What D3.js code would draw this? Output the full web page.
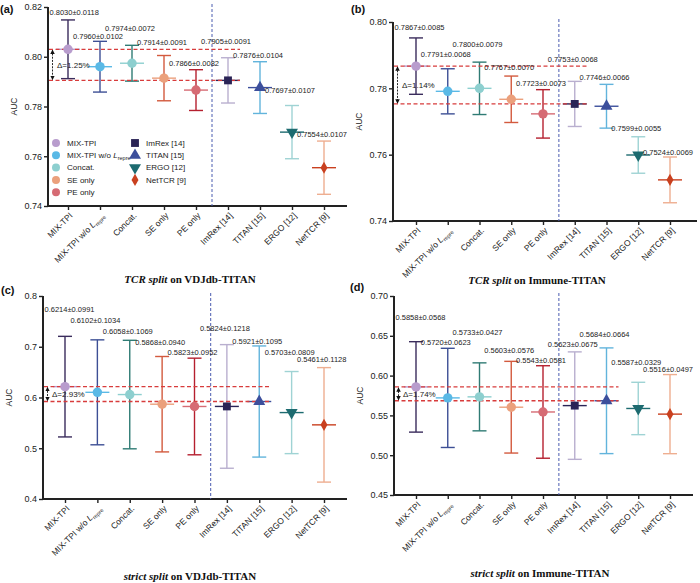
<!DOCTYPE html>
<html><head><meta charset="utf-8">
<script src="https://cdn.jsdelivr.net/npm/d3@7"></script>
<style>html,body{margin:0;padding:0;background:#fff;} svg{display:block;}</style>
</head><body>
<svg id="chart" width="700" height="583"></svg>
<script>
// ---------- data ----------
const categories = ["MIX-TPI","MIX-TPI w/o Lrepre","Concat.","SE only","PE only","ImRex [14]","TITAN [15]","ERGO [12]","NetTCR [9]"];
const markerShapes = ["circle","circle","circle","circle","circle","square","triangle","triangleDown","diamond"];
const markerColors = ["#b89ccd","#5ab9e6","#8dcfcf","#eba07c","#d66b74","#2a2456","#3c4f9c","#1d6b70","#c9401f"];
const barColors    = ["#3a2c5c","#3d4f95","#2f7b74","#d35a3e","#b5202f","#b9afcf","#62b4dc","#9fd3d4","#eeae90"];

const meanA = [0.8030,0.7960,0.7974,0.7914,0.7866,0.7905,0.7876,0.7697,0.7554];
const sdA   = [0.0118,0.0102,0.0072,0.0091,0.0082,0.0091,0.0104,0.0107,0.0107];
const ticksA = [0.74,0.76,0.78,0.80,0.82];

const meanB = [0.7867,0.7791,0.7800,0.7767,0.7723,0.7753,0.7746,0.7599,0.7524];
const sdB   = [0.0085,0.0068,0.0079,0.0070,0.0073,0.0068,0.0066,0.0055,0.0069];
const ticksB = [0.74,0.76,0.78,0.80];

const meanC = [0.6214,0.6102,0.6058,0.5868,0.5823,0.5824,0.5921,0.5703,0.5461];
const sdC   = [0.0991,0.1034,0.1069,0.0940,0.0952,0.1218,0.1095,0.0809,0.1128];
const ticksC = [0.4,0.5,0.6,0.7,0.8];

const meanD = [0.5858,0.5720,0.5733,0.5603,0.5543,0.5623,0.5684,0.5587,0.5516];
const sdD   = [0.0568,0.0623,0.0427,0.0576,0.0581,0.0675,0.0664,0.0329,0.0497];
const ticksD = [0.45,0.50,0.55,0.60,0.65,0.70];

// label vertical nudges (layout, px)
const labelDyA = [-8,-5,-17,-13,-6,-16,-6,-15,-7];
const labelDyB = [-11,-14,-18,-9,-6,-22,-7,-8,-5];
const labelDyC = [-27,-19,-9,-14,-6,-16,-5,-19,-8];
const labelDyD = [-24,-6,-30,-11,-5,-8,-14,-20,-5];

const SANS = "'Liberation Sans', Arial, Helvetica, sans-serif";
const SERIF = "'Liberation Serif', 'Times New Roman', serif";

const panels = [
  {tag:"(a)", tagX:0, tagY:9, means:meanA, sds:sdA, ticks:ticksA, fmt:".2f", ax:48, x0:68, x1:324, xEnd:347, yTop:7, yBot:206,
   labelDy:labelDyA, title:[["TCR split",true],[" on VDJdb-TITAN",false]], titleX:190, titleY:279, legend:true},
  {tag:"(b)", tagX:351, tagY:9, means:meanB, sds:sdB, ticks:ticksB, fmt:".2f", ax:393, x0:416, x1:670, xEnd:697, yTop:22, yBot:221,
   labelDy:labelDyB, title:[["TCR split",true],[" on Immune-TITAN",false]], titleX:537, titleY:280},
  {tag:"(c)", tagX:1, tagY:290, means:meanC, sds:sdC, ticks:ticksC, fmt:".1f", ax:43, x0:65, x1:324, xEnd:347, yTop:296, yBot:499,
   labelDy:labelDyC, title:[["strict split",true],[" on VDJdb-TITAN",false]], titleX:190, titleY:576},
  {tag:"(d)", tagX:350, tagY:287, means:meanD, sds:sdD, ticks:ticksD, fmt:".2f", ax:394, x0:416, x1:670, xEnd:693, yTop:296, yBot:495,
   labelDy:labelDyD, title:[["strict split",true],[" on Immune-TITAN",false]], titleX:540, titleY:573}
];

const svg = d3.select("#chart");
const defs = svg.append("defs");
defs.append("marker").attr("id","arrow").attr("viewBox","0 0 6 6").attr("refX",5).attr("refY",3)
  .attr("markerWidth",5).attr("markerHeight",5).attr("orient","auto-start-reverse")
  .append("path").attr("d","M0,0 L6,3 L0,6 Z").attr("fill","#111");

function symbolPath(shape, size){
  const t = {circle:d3.symbolCircle, square:d3.symbolSquare, triangle:d3.symbolTriangle,
             triangleDown:d3.symbolTriangle, diamond:d3.symbolDiamond}[shape];
  const s = {circle:70, square:62, triangle:62, triangleDown:62, diamond:42}[shape];
  return d3.symbol().type(t).size(size || s)();
}
function symbolTransform(shape, x, y){
  return `translate(${x},${y})` + (shape==="triangleDown" ? " rotate(180)" : "");
}
function catLabel(sel, name){
  if (name === "MIX-TPI w/o Lrepre"){
    sel.text(null);
    sel.append("tspan").text("MIX-TPI w/o ");
    sel.append("tspan").attr("font-style","italic").text("L");
    sel.append("tspan").attr("font-size","5.5px").attr("dy","2").text("repre");
  } else sel.text(name);
}

panels.forEach(p => {
  const g = svg.append("g");
  const x = d3.scalePoint().domain(categories).range([p.x0, p.x1]);
  const y = d3.scaleLinear().domain([p.ticks[0], p.ticks[p.ticks.length-1]]).range([p.yBot, p.yTop]);
  const f4 = d3.format(".4f");

  // y axis
  const ya = g.append("g").attr("transform",`translate(${p.ax},0)`)
    .call(d3.axisLeft(y).tickValues(p.ticks).tickFormat(d3.format(p.fmt)).tickSize(4).tickSizeOuter(0).tickPadding(2));
  ya.select(".domain").remove();
  ya.selectAll(".tick line").attr("stroke","#222").attr("stroke-width",1.4);
  ya.selectAll(".tick text").attr("font-family",SANS).attr("font-size","9px").attr("fill","#222");

  // x axis
  const xa = g.append("g").attr("transform",`translate(0,${p.yBot})`)
    .call(d3.axisBottom(x).tickSize(4).tickSizeOuter(0).tickFormat(""));
  xa.select(".domain").remove();
  xa.selectAll(".tick line").attr("stroke","#222").attr("stroke-width",1.4);
  categories.forEach(c => {
    const t = g.append("text")
      .attr("transform",`translate(${x(c)+3},${p.yBot+8}) rotate(-45)`)
      .attr("text-anchor","end").attr("dy","0.35em")
      .attr("font-family",SANS).attr("font-size","8.5px").attr("fill","#222");
    catLabel(t, c);
  });

  // axis lines
  g.append("line").attr("x1",p.ax).attr("x2",p.ax).attr("y1",p.yTop).attr("y2",p.yBot+1)
    .attr("stroke","#222").attr("stroke-width",2);
  g.append("line").attr("x1",p.ax-1).attr("x2",p.xEnd).attr("y1",p.yBot).attr("y2",p.yBot)
    .attr("stroke","#222").attr("stroke-width",2);

  // AUC label
  g.append("text").attr("transform",`translate(${p.ax-31},${(p.yTop+p.yBot)/2}) rotate(-90)`)
    .attr("text-anchor","middle").attr("font-family",SANS).attr("font-size","8.5px").attr("fill","#222").text("AUC");

  // separator
  const sepX = (x(categories[4]) + x(categories[5]))/2;
  g.append("line").attr("x1",sepX).attr("x2",sepX).attr("y1",p.yTop-3).attr("y2",p.yBot)
    .attr("stroke","#4b5cb0").attr("stroke-width",1).attr("stroke-dasharray","3,2");

  // error bars
  const items = categories.map((c,i)=>({c,i,m:p.means[i],s:p.sds[i]}));
  const eb = g.append("g");
  items.forEach(d => {
    const cx = x(d.c), col = barColors[d.i];
    eb.append("line").attr("x1",cx).attr("x2",cx).attr("y1",y(d.m+d.s)).attr("y2",y(d.m-d.s))
      .attr("stroke",col).attr("stroke-width",1.4);
    [d.m+d.s, d.m-d.s].forEach(v => eb.append("line").attr("x1",cx-7).attr("x2",cx+7)
      .attr("y1",y(v)).attr("y2",y(v)).attr("stroke",col).attr("stroke-width",1.4));
    eb.append("line").attr("x1",cx-12).attr("x2",cx+12).attr("y1",y(d.m)).attr("y2",y(d.m))
      .attr("stroke",markerColors[d.i]).attr("stroke-width",1.4);
  });

  // reference lines: MIX-TPI vs best baseline
  const best = d3.maxIndex(p.means.slice(5)) + 5;
  const lineEnd = x(categories[best]) + 12;
  [p.means[0], p.means[best]].forEach(v => g.append("line")
    .attr("x1",p.ax+1).attr("x2",lineEnd).attr("y1",y(v)).attr("y2",y(v))
    .attr("stroke","#d83c3c").attr("stroke-width",1.3).attr("stroke-dasharray","4,2.5"));

  // delta arrow
  const delta = (p.means[0]-p.means[best])*100;
  const arX = p.ax + 4.5;
  g.append("line").attr("x1",arX).attr("x2",arX).attr("y1",y(p.means[0])+1).attr("y2",y(p.means[best])-1)
    .attr("stroke","#111").attr("stroke-width",0.9).attr("stroke-dasharray","2,1.2")
    .attr("marker-start","url(#arrow)").attr("marker-end","url(#arrow)");
  g.append("text").attr("x",p.ax+9).attr("y",(y(p.means[0])+y(p.means[best]))/2).attr("dy","0.35em")
    .attr("font-family",SANS).attr("font-size","8px").attr("fill","#222")
    .text("Δ=" + delta.toFixed(2) + "%");

  // markers
  items.forEach(d => {
    const sh = markerShapes[d.i];
    g.append("path").attr("d",symbolPath(sh)).attr("transform",symbolTransform(sh, x(d.c), y(d.m)))
      .attr("fill",markerColors[d.i]);
  });

  // value labels
  items.forEach(d => {
    g.append("text")
      .attr("x", Math.max(x(d.c)-27, p.ax+1.5))
      .attr("y", y(d.m+d.s) + p.labelDy[d.i]).attr("dy","0.35em")
      .attr("font-family",SANS).attr("font-size","7.5px").attr("fill","#222")
      .text(f4(d.m) + "±" + f4(d.s));
  });

  // title
  const tt = g.append("text").attr("x",p.titleX).attr("y",p.titleY).attr("dy","0.35em").attr("text-anchor","middle")
    .attr("font-family",SERIF).attr("font-size","11px").attr("font-weight","bold").attr("fill","#111");
  p.title.forEach(([s,it]) => tt.append("tspan").attr("font-style", it ? "italic" : "normal").text(s));

  // panel tag
  g.append("text").attr("x",p.tagX).attr("y",p.tagY).attr("dy","0.35em")
    .attr("font-family",SANS).attr("font-size","11px").attr("font-weight","bold").attr("fill","#111").text(p.tag);

  // legend
  if (p.legend){
    const lg = g.append("g");
    categories.forEach((c,i) => {
      const col = i < 5 ? 0 : 1, row = i < 5 ? i : i-5;
      const mx = col === 0 ? 56 : 135, ly = 143 + row*12.3;
      const sh = markerShapes[i];
      lg.append("path").attr("d",symbolPath(sh, sh==="circle"?50:undefined)).attr("transform",symbolTransform(sh,mx,ly))
        .attr("fill",markerColors[i]);
      const t = lg.append("text").attr("x",mx+11).attr("y",ly).attr("dy","0.35em")
        .attr("font-family",SANS).attr("font-size","8px").attr("fill","#222");
      catLabel(t, c);
    });
  }
});
</script>
</body></html>
